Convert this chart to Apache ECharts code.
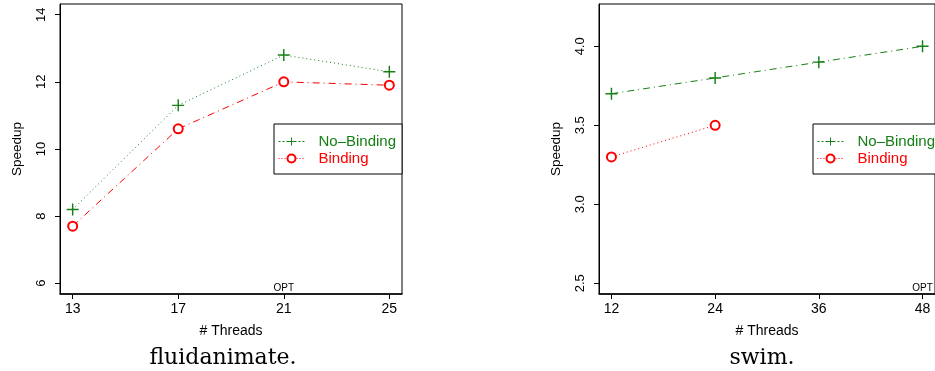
<!DOCTYPE html>
<html>
<head>
<meta charset="utf-8">
<script src="https://cdn.jsdelivr.net/npm/echarts@6/dist/echarts.min.js"></script>
<style>
html,body{margin:0;padding:0;background:#fff;}
#chart{width:935px;height:371px;}
</style>
</head>
<body>
<div id="chart"></div>
<script>
// ---- data ----
const fluidThreads = [13, 17, 21, 25];
const fluidNoBinding = [8.2, 11.3, 12.8, 12.3];
const fluidBinding = [7.7, 10.6, 12.0, 11.9];
const fluidYTicks = [6, 8, 10, 12, 14];
const fluidOpt = 21;

const swimThreads = [12, 24, 36, 48];
const swimNoBinding = [3.7, 3.8, 3.9, 4.0];
const swimBindingThreads = [12, 24];
const swimBinding = [3.3, 3.5];
const swimYTicks = [2.5, 3.0, 3.5, 4.0];
const swimOpt = 48;

const captions = ['fluidanimate.', 'swim.'];
const seriesNames = ['No\u2013Binding', 'Binding'];

// ---- styles ----
const GREEN = '#168016';
const RED = '#ff0000';
const FONT = 'Liberation Sans, Arial, sans-serif';
const PLUS = 'path://M4.4,0 H5.6 V4.4 H10 V5.6 H5.6 V10 H4.4 V5.6 H0 V4.4 H4.4 Z';

function pad(lo, hi) { const d = (hi - lo) * 0.04; return [lo - d, hi + d]; }
function pairs(xs, ys) { return xs.map((x, i) => [x, ys[i]]); }

const fx = pad(13, 25), fy = pad(6, 14);
const sx = pad(12, 48), sy = pad(2.5, 4.2);

function xAxis(gi, range, ticks) {
  return {
    type: 'value', gridIndex: gi, min: range[0], max: range[1],
    name: '# Threads', nameLocation: 'middle', nameGap: 30,
    nameTextStyle: { fontFamily: FONT, fontSize: 14, color: '#000' },
    axisLine: { show: true, lineStyle: { color: '#000', width: 1.5 } },
    axisTick: { show: true, length: 5, customValues: ticks, lineStyle: { color: '#000' } },
    axisLabel: { customValues: ticks, margin: 8, fontFamily: FONT, fontSize: 14, color: '#000' },
    splitLine: { show: false }
  };
}
function yAxis(gi, range, ticks, fmt) {
  return {
    type: 'value', gridIndex: gi, min: range[0], max: range[1],
    name: 'Speedup', nameLocation: 'middle', nameGap: 36, nameRotate: 90,
    nameTextStyle: { fontFamily: FONT, fontSize: 13.5, color: '#000' },
    axisLine: { show: true, lineStyle: { color: '#000', width: 1 } },
    axisTick: { show: true, length: 5, customValues: ticks, lineStyle: { color: '#000' } },
    axisLabel: { customValues: ticks, rotate: 90, margin: 12, fontFamily: FONT, fontSize: 13, color: '#000', formatter: fmt },
    splitLine: { show: false }
  };
}
function lineSeries(name, gi, data, color, type, symbol, size, opt) {
  const s = {
    name: name, type: 'line', xAxisIndex: gi, yAxisIndex: gi, data: data,
    symbol: symbol, symbolSize: size, showSymbol: true,
    lineStyle: { color: color, width: 1, type: type },
    itemStyle: symbol === 'emptyCircle'
      ? { color: color, borderColor: color, borderWidth: 1.2 }
      : { color: color, borderWidth: 0 },
    emphasis: { disabled: true }, animation: false, z: 3
  };
  if (opt) {
    s.markPoint = {
      symbol: 'circle', symbolSize: 0, silent: true, animation: false,
      label: { show: true, position: 'top', distance: 1, formatter: 'OPT', fontFamily: FONT, fontSize: 10, color: '#000' },
      data: [{ coord: opt }]
    };
  }
  return s;
}
function legend(left) {
  return {
    orient: 'vertical', left: left, top: 124,
    backgroundColor: '#fff', borderColor: '#000', borderWidth: 1,
    padding: [10, 6, 8, 4], itemWidth: 26, itemHeight: 10, itemGap: 2,
    selectedMode: false,
    textStyle: { fontFamily: FONT, fontSize: 15, padding: [0, 0, 0, 9] },
    data: [
      { name: seriesNames[0], textStyle: { color: GREEN }, lineStyle: { type: [2, 2], width: 1 } },
      { name: seriesNames[1], textStyle: { color: RED }, lineStyle: { type: [1, 2], width: 1 } }
    ]
  };
}

const option = {
  animation: false,
  backgroundColor: '#fff',
  title: [
    { text: captions[0], left: 218, top: 342, textAlign: 'center', textStyle: { fontFamily: 'DejaVu Serif, serif', fontSize: 22, fontWeight: 'normal', color: '#000' } },
    { text: captions[1], left: 757, top: 342, textAlign: 'center', textStyle: { fontFamily: 'DejaVu Serif, serif', fontSize: 22, fontWeight: 'normal', color: '#000' } }
  ],
  grid: [
    { left: 60, top: 4, width: 342, height: 290, show: true, borderColor: '#000', borderWidth: 1, backgroundColor: 'transparent' },
    { left: 599, top: 4, width: 343, height: 290, show: true, borderColor: '#000', borderWidth: 1, backgroundColor: 'transparent' }
  ],
  legend: [legend(274), legend(813)],
  xAxis: [xAxis(0, fx, fluidThreads), xAxis(1, sx, swimThreads)],
  yAxis: [
    yAxis(0, fy, fluidYTicks, v => String(v)),
    yAxis(1, sy, swimYTicks, v => v.toFixed(1))
  ],
  series: [
    lineSeries(seriesNames[0], 0, pairs(fluidThreads, fluidNoBinding), GREEN, [1, 3], PLUS, 12, [fluidOpt, fy[0]]),
    lineSeries(seriesNames[1], 0, pairs(fluidThreads, fluidBinding), RED, [7, 4, 1, 4], 'emptyCircle', 9),
    lineSeries(seriesNames[0], 1, pairs(swimThreads, swimNoBinding), GREEN, [7, 4, 1, 4], PLUS, 12, [swimOpt, sy[0]]),
    lineSeries(seriesNames[1], 1, pairs(swimBindingThreads, swimBinding), RED, [1, 3], 'emptyCircle', 9)
  ]
};

const chart = echarts.init(document.getElementById('chart'), null, { renderer: 'canvas' });
chart.setOption(option);
</script>
</body>
</html>
